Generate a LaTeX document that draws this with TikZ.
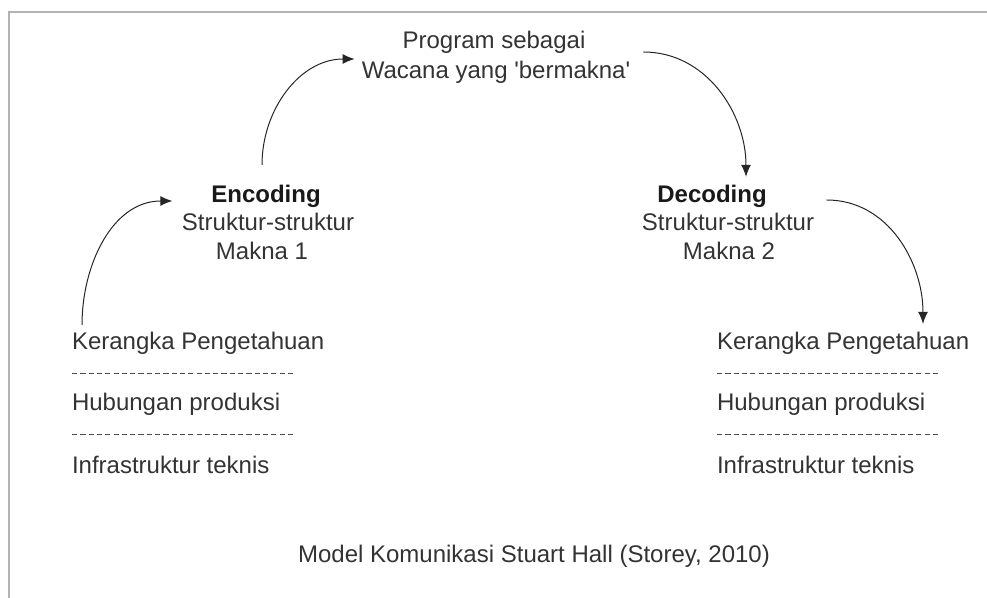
\documentclass[tikz,border=0pt]{standalone}
\usepackage{fontspec}
\setmainfont{Liberation Sans}
\usetikzlibrary{arrows.meta,
                calc,
                positioning}

\begin{document}
\begin{tikzpicture}[
x=0.5pt, y=-0.5pt,
   TXT/.style = {inner sep=0pt, outer sep=0pt, text=black!80,
                 font=\fontsize{12}{14}\selectfont},
   STK/.style = {TXT, anchor=west},             % stacked text, left aligned
   SEP/.style = {black!70, line width=0.5pt,
                 dash pattern=on 2.6pt off 1.55pt},% separator
   ARR/.style = {-{Latex[length=6pt,width=5pt]},
                 black!85, line width=0.5pt}     % curved arrow
                        ]
\useasboundingbox (0,0) rectangle (987,598);
% frame
\draw[black!30, line width=1pt] (9,598) -- (9,12) -- (987,12);
% top
\node (prog) [TXT] at (494,42) {Program sebagai};
\node (wac)  [TXT] at (496,72) {Wacana yang \textquotesingle bermakna\textquotesingle};
% encoding
\node (enc)  [TXT, font=\fontsize{12}{14}\selectfont\bfseries, text=black!90]
             at (266,196) {Encoding};
\node (encS) [TXT] at (268,222) {Struktur-struktur};
\node (encM) [TXT] at (262,251) {Makna 1};
% decoding
\node (dec)  [TXT, font=\fontsize{12}{14}\selectfont\bfseries, text=black!90]
             at (712,196) {Decoding};
\node (decS) [TXT] at (728,222) {Struktur-struktur};
\node (decM) [TXT] at (729,251) {Makna 2};
% left stack
\node (lk) [STK] at (72,343) {Kerangka Pengetahuan};
\node (lh) [STK] at (72,404) {Hubungan produksi};
\node (li) [STK] at (72,465) {Infrastruktur teknis};
% right stack
\node (rk) [STK] at (717,343) {Kerangka Pengetahuan};
\node (rh) [STK] at (717,404) {Hubungan produksi};
\node (ri) [STK] at (717,465) {Infrastruktur teknis};
% separators
\draw[SEP] ($(lk.west)!0.5!(lh.west)$) -- ++(221,0);
\draw[SEP] ($(lh.west)!0.5!(li.west)$) -- ++(221,0);
\draw[SEP] ($(rk.west)!0.5!(rh.west)$) -- ++(222,0);
\draw[SEP] ($(rh.west)!0.5!(ri.west)$) -- ++(222,0);
% caption
\node (cap) [TXT] at (534,556) {Model Komunikasi Stuart Hall (Storey, 2010)};
% arrows
\draw[ARR] ($(lk.north west)+(10,-7)$) to[out=90, in=180]
           ($(enc.west)+(-39,5)$);
\draw[ARR] ($(enc.north)+(-4,-20)$) to[out=90, in=180]
           ($(prog.west)+(-48,17)$);
\draw[ARR] ($(prog.east)+(58,10)$) to[out=0, in=90]
           ($(dec.north)+(34,-8)$);
\draw[ARR] ($(dec.east)+(60,4)$) to[out=0, in=90]
           ($(rk.north west)+(206,-8)$);
\end{tikzpicture}
\end{document}
